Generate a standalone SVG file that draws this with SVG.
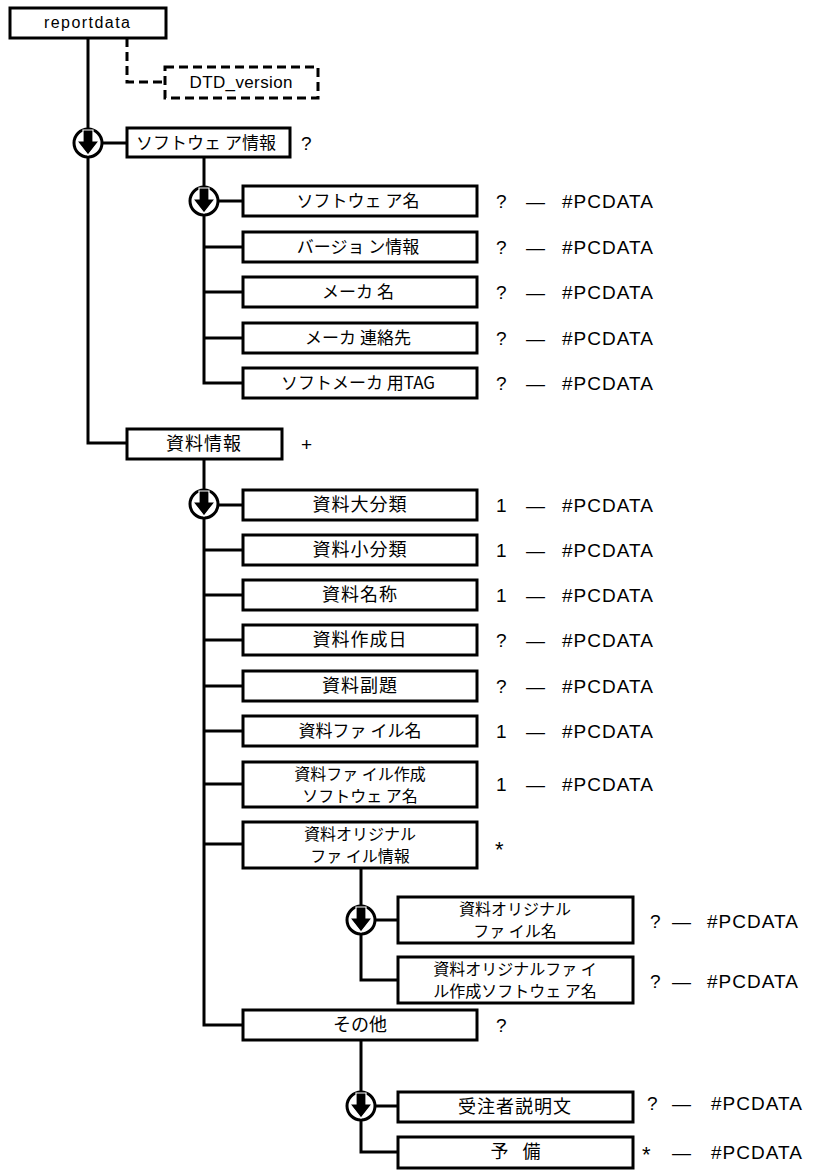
<svg xmlns="http://www.w3.org/2000/svg" xmlns:xlink="http://www.w3.org/1999/xlink" width="814" height="1170" viewBox="0 0 814 1170">
<style>
.box{fill:#fff;stroke:#000;stroke-width:3}
.dbox{fill:#fff;stroke:#000;stroke-width:3;stroke-dasharray:9 5}
.ln{fill:none;stroke:#000;stroke-width:3}
.dln{fill:none;stroke:#000;stroke-width:3;stroke-dasharray:9 5}
.jp{font-family:"Noto Sans CJK JP","Liberation Sans",sans-serif;font-size:18px;text-anchor:middle;fill:#000}
.jk{font-family:"Noto Sans CJK JP","Liberation Sans",sans-serif;font-size:17px;text-anchor:middle;fill:#000}
.j2{font-family:"Noto Sans CJK JP","Liberation Sans",sans-serif;font-size:16px;text-anchor:middle;fill:#000}
.lt{font-family:"Liberation Sans",Arial,sans-serif;font-size:16px;text-anchor:middle;fill:#000}
.lb{font-family:"Liberation Sans",Arial,sans-serif;font-size:19px;fill:#000}
</style>
<defs>
<g id="seq">
<circle cx="0" cy="0" r="14" fill="#fff" stroke="#000" stroke-width="3"/>
<path d="M-5,-13 H5 V-2 H11 L0,12 L-11,-2 H-5 Z" fill="#000" stroke="#fff" stroke-width="1.2"/>
</g>
</defs>
<rect width="814" height="1170" fill="#fff"/>
<g id="connectors">
<path class="ln" d="M88,38 V443 H127"/>
<path class="ln" d="M88,143 H127"/>
<path class="dln" d="M127,38 V82 H165"/>
<path class="ln" d="M204,157 V383 H243"/>
<path class="ln" d="M204,201 H243 M204,247 H243 M204,292 H243 M204,338 H243"/>
<path class="ln" d="M204,459 V1025 H243"/>
<path class="ln" d="M204,505 H243 M204,550 H243 M204,595 H243 M204,640 H243 M204,686 H243 M204,731 H243 M204,784 H243 M204,844 H243"/>
<path class="ln" d="M361,868 V980 H398"/>
<path class="ln" d="M361,920 H398"/>
<path class="ln" d="M361,1040 V1152 H398"/>
<path class="ln" d="M361,1106 H398"/>
<use xlink:href="#seq" x="88" y="143"/>
<use xlink:href="#seq" x="204" y="201"/>
<use xlink:href="#seq" x="204" y="504"/>
<use xlink:href="#seq" x="361" y="920"/>
<use xlink:href="#seq" x="361" y="1106"/>
</g>
<g id="n-reportdata"><rect class="box" x="10" y="8" width="156" height="30"/><text class="lt" x="87" y="28" textLength="86" lengthAdjust="spacing">reportdata</text></g>
<g id="n-dtd"><rect class="dbox" x="165" y="67" width="153" height="31"/><text class="lt" x="241" y="88" textLength="103" lengthAdjust="spacing" style="font-size:17px">DTD_version</text></g>
<g id="n-softinfo"><rect class="box" x="127" y="128" width="163" height="29"/><text class="jk" x="206" y="149">ソフトウェ ア情報</text><text class="lb" x="301" y="150">?</text></g>
<g id="n-softname"><rect class="box" x="243" y="186" width="234" height="30"/><text class="jk" x="358" y="207">ソフトウェ ア名</text></g>
<g id="n-version"><rect class="box" x="243" y="232" width="234" height="30"/><text class="jk" x="358" y="253">バージョ ン情報</text></g>
<g id="n-maker"><rect class="box" x="243" y="277" width="234" height="30"/><text class="jk" x="358" y="298">メーカ 名</text></g>
<g id="n-makercontact"><rect class="box" x="243" y="323" width="234" height="30"/><text class="jk" x="358" y="344">メーカ 連絡先</text></g>
<g id="n-makertag"><rect class="box" x="243" y="368" width="234" height="30"/><text class="jk" x="358" y="389">ソフトメーカ 用TAG</text></g>
<g id="n-docinfo"><rect class="box" x="127" y="429" width="155" height="30"/><text class="jp" x="204" y="450" letter-spacing="1">資料情報</text><text class="lb" x="301" y="451">+</text></g>
<g id="n-major"><rect class="box" x="243" y="490" width="234" height="30"/><text class="jp" x="360" y="511" letter-spacing="1">資料大分類</text></g>
<g id="n-minor"><rect class="box" x="243" y="535" width="234" height="30"/><text class="jp" x="360" y="556" letter-spacing="1">資料小分類</text></g>
<g id="n-docname"><rect class="box" x="243" y="580" width="234" height="30"/><text class="jp" x="360" y="601" letter-spacing="1">資料名称</text></g>
<g id="n-date"><rect class="box" x="243" y="625" width="234" height="30"/><text class="jp" x="360" y="646" letter-spacing="1">資料作成日</text></g>
<g id="n-subtitle"><rect class="box" x="243" y="671" width="234" height="30"/><text class="jp" x="360" y="692" letter-spacing="1">資料副題</text></g>
<g id="n-filename"><rect class="box" x="243" y="716" width="234" height="30"/><text class="jk" x="360" y="737">資料ファ イル名</text></g>
<g id="n-filesoft"><rect class="box" x="243" y="762" width="234" height="45"/><text class="j2" x="360" y="780">資料ファ イル作成</text><text class="j2" x="360" y="802">ソフトウェ ア名</text></g>
<g id="n-originfo"><rect class="box" x="243" y="822" width="234" height="46"/><text class="j2" x="360" y="840">資料オリジナル</text><text class="j2" x="360" y="862">ファ イル情報</text></g>
<g id="n-origname"><rect class="box" x="398" y="897" width="235" height="46"/><text class="j2" x="515" y="915">資料オリジナル</text><text class="j2" x="515" y="937">ファ イル名</text></g>
<g id="n-origsoft"><rect class="box" x="398" y="957" width="235" height="46"/><text class="j2" x="515" y="975">資料オリジナルファ イ</text><text class="j2" x="515" y="997">ル作成ソフトウェ ア名</text></g>
<g id="n-other"><rect class="box" x="243" y="1010" width="234" height="30"/><text class="jp" x="360" y="1031">その他</text></g>
<g id="n-desc"><rect class="box" x="398" y="1092" width="235" height="30"/><text class="jp" x="515" y="1113" letter-spacing="1">受注者説明文</text></g>
<g id="n-reserve"><rect class="box" x="398" y="1137" width="235" height="31"/><text class="jp" x="518" y="1158" letter-spacing="5">予 備</text></g>
<g id="labels">
<text class="lb" x="496" y="208">?</text><text class="lb" x="526" y="208">—</text><text class="lb" x="562" y="208" letter-spacing="1">#PCDATA</text>
<text class="lb" x="496" y="254">?</text><text class="lb" x="526" y="254">—</text><text class="lb" x="562" y="254" letter-spacing="1">#PCDATA</text>
<text class="lb" x="496" y="299">?</text><text class="lb" x="526" y="299">—</text><text class="lb" x="562" y="299" letter-spacing="1">#PCDATA</text>
<text class="lb" x="496" y="345">?</text><text class="lb" x="526" y="345">—</text><text class="lb" x="562" y="345" letter-spacing="1">#PCDATA</text>
<text class="lb" x="496" y="390">?</text><text class="lb" x="526" y="390">—</text><text class="lb" x="562" y="390" letter-spacing="1">#PCDATA</text>
<text class="lb" x="496" y="512">1</text><text class="lb" x="526" y="512">—</text><text class="lb" x="562" y="512" letter-spacing="1">#PCDATA</text>
<text class="lb" x="496" y="557">1</text><text class="lb" x="526" y="557">—</text><text class="lb" x="562" y="557" letter-spacing="1">#PCDATA</text>
<text class="lb" x="496" y="602">1</text><text class="lb" x="526" y="602">—</text><text class="lb" x="562" y="602" letter-spacing="1">#PCDATA</text>
<text class="lb" x="496" y="647">?</text><text class="lb" x="526" y="647">—</text><text class="lb" x="562" y="647" letter-spacing="1">#PCDATA</text>
<text class="lb" x="496" y="693">?</text><text class="lb" x="526" y="693">—</text><text class="lb" x="562" y="693" letter-spacing="1">#PCDATA</text>
<text class="lb" x="496" y="738">1</text><text class="lb" x="526" y="738">—</text><text class="lb" x="562" y="738" letter-spacing="1">#PCDATA</text>
<text class="lb" x="496" y="791">1</text><text class="lb" x="526" y="791">—</text><text class="lb" x="562" y="791" letter-spacing="1">#PCDATA</text>
<text class="lb" x="495" y="857" style="font-size:22px">*</text>
<text class="lb" x="650" y="928">?</text><text class="lb" x="672" y="928">—</text><text class="lb" x="707" y="928" letter-spacing="1">#PCDATA</text>
<text class="lb" x="650" y="988">?</text><text class="lb" x="672" y="988">—</text><text class="lb" x="707" y="988" letter-spacing="1">#PCDATA</text>
<text class="lb" x="496" y="1032">?</text>
<text class="lb" x="647" y="1110">?</text><text class="lb" x="672" y="1110">—</text><text class="lb" x="711" y="1110" letter-spacing="1">#PCDATA</text>
<text class="lb" x="642" y="1162" style="font-size:22px">*</text><text class="lb" x="672" y="1159">—</text><text class="lb" x="711" y="1159" letter-spacing="1">#PCDATA</text>
</g>
</svg>
